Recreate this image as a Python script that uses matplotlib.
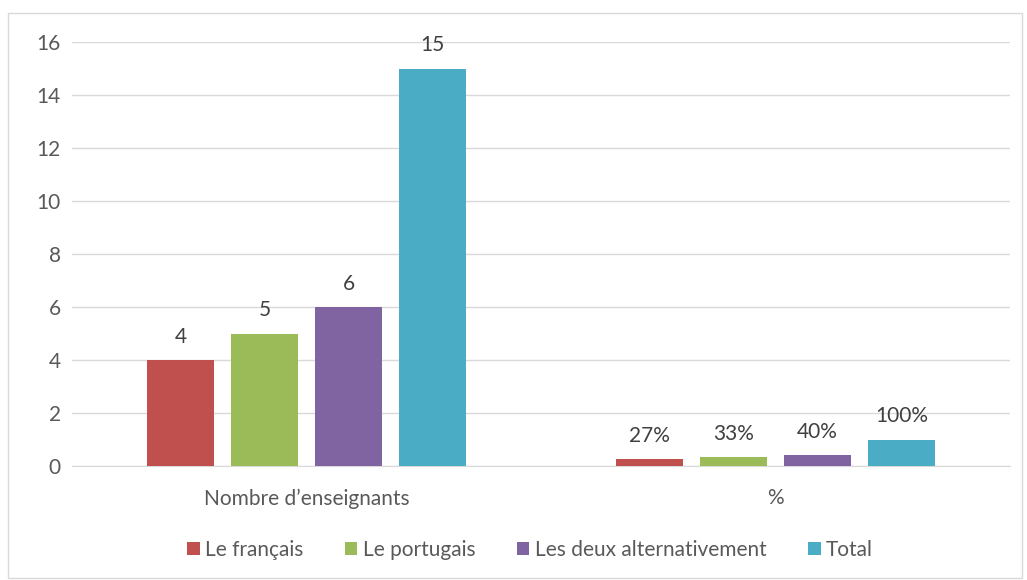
import numpy as np
import matplotlib.pyplot as plt
from matplotlib.patches import Rectangle

categories = ['Nombre d\u2019enseignants', '%']
series = ['Le français', 'Le portugais', 'Les deux alternativement', 'Total']
values = [[4, 0.27], [5, 0.33], [6, 0.40], [15, 1.0]]
labels = [['4', '27%'], ['5', '33%'], ['6', '40%'], ['15', '100%']]
colors = ['#C0504D', '#9BBB59', '#8064A2', '#4BACC6']

plt.rcParams['font.family'] = ['Lato', 'DejaVu Sans']
txt = '#595959'
fs = 15

fig = plt.figure(figsize=(10.27, 5.80), dpi=100)
fig.patches.append(Rectangle((8/1027, 2/580), 1014/1027, 565/580, transform=fig.transFigure,
                             fill=False, edgecolor='#D9D9D9', linewidth=1))
ax = fig.add_axes([72/1027, 1 - 466/580, 938/1027, 424/580])

x = np.arange(len(categories))
width = 0.143
step = 0.179
for i, (name, vals) in enumerate(zip(series, values)):
    pos = x + (i - 1.5) * step
    bars = ax.bar(pos, vals, width, color=colors[i], label=name, zorder=3)
    for b, lab in zip(bars, labels[i]):
        ax.text(b.get_x() + b.get_width() / 2, b.get_height() + 0.5, lab,
                ha='center', va='bottom', fontsize=fs, color='#404040')

ax.set_xlim(-0.5, 1.5)
ax.set_ylim(0, 16)
ax.set_yticks(range(0, 17, 2))
ax.set_xticks(x)
ax.set_xticklabels(categories)
ax.grid(axis='y', color='#D9D9D9', linewidth=1, zorder=0)
for s in ['left', 'right', 'top']:
    ax.spines[s].set_visible(False)
ax.spines['bottom'].set_color('#D9D9D9')
ax.tick_params(axis='both', length=0, labelsize=fs, colors=txt)
ax.tick_params(axis='x', pad=16)
ax.tick_params(axis='y', pad=8)

leg = fig.legend(loc='center', bbox_to_anchor=(530/1027, 1 - 550/580), ncol=4, frameon=False,
                 fontsize=fs, handlelength=0.6, handleheight=0.6, handletextpad=0.25,
                 columnspacing=2.0)
for t in leg.get_texts():
    t.set_color(txt)

plt.savefig('out.png', dpi=100)
